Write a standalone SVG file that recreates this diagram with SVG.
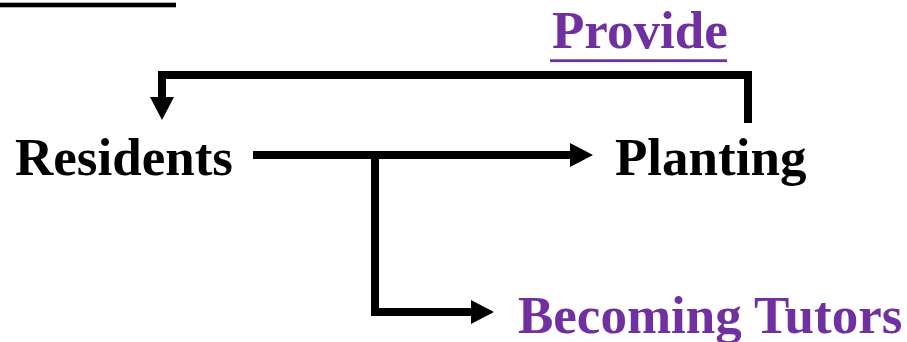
<svg xmlns="http://www.w3.org/2000/svg" width="907" height="342" viewBox="0 0 907 342">
<style>
.lbl{font-family:"Liberation Serif","Times New Roman",serif;font-weight:bold;font-size:53px}
.blk{fill:#000}
.pur{fill:#7030A0}
.con{fill:none;stroke:#000;stroke-width:8;stroke-linejoin:miter;stroke-linecap:butt}
</style>
<defs>
<marker id="ah" markerUnits="userSpaceOnUse" markerWidth="24" markerHeight="24" refX="0" refY="12" orient="auto" viewBox="0 0 24 24">
<path d="M0,0 L23,12 L0,24 z" fill="#000"/>
</marker>
</defs>
<rect x="0" y="2.7" width="176" height="4.6" fill="#000"/>
<g id="connectors">
<path class="con" d="M253,155 H570" marker-end="url(#ah)"/>
<path class="con" d="M375,151 V312 H471" marker-end="url(#ah)"/>
<path class="con" d="M748,123 V75 H162 V97" marker-end="url(#ah)"/>
</g>
<g id="residents">
<text class="lbl blk" x="15" y="175">Residents</text>
</g>
<g id="planting">
<text class="lbl blk" x="615" y="175">Planting</text>
</g>
<g id="provide">
<text class="lbl pur" x="552" y="48">Provide</text>
<rect x="550" y="59.3" width="177" height="2.8" fill="#7030A0"/>
</g>
<g id="tutors">
<text class="lbl pur" x="518" y="333">Becoming Tutors</text>
</g>
</svg>
